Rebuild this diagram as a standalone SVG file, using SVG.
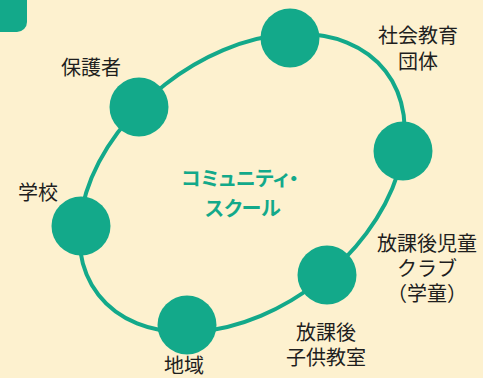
<svg xmlns="http://www.w3.org/2000/svg" width="483" height="378" viewBox="0 0 483 378">
<style>
.lbl{font-family:"Liberation Sans","Noto Sans CJK JP","Noto Sans CJK SC",sans-serif;font-size:20px;fill:#1e1e1e;text-anchor:middle}
.ctr{font-family:"Liberation Sans","Noto Sans CJK JP","Noto Sans CJK SC",sans-serif;font-size:20px;font-weight:bold;fill:#13a98a;text-anchor:middle;font-feature-settings:"palt"}
.node{fill:#13a98a}
.loop{fill:none;stroke:#13a98a;stroke-width:4}
</style>
<rect width="483" height="378" fill="#fdf1cf"/>
<rect x="-12" y="-12" width="39" height="44" rx="10" fill="#13a98a"/>
<g id="connectors">
<ellipse class="loop" cx="242" cy="183" rx="182" ry="125" transform="rotate(-38 242 183)"/>
</g>
<g id="hogosha"><circle class="node" cx="139" cy="107" r="29.5"/><text class="lbl" x="91" y="75">保護者</text></g>
<g id="shakai"><circle class="node" cx="290" cy="38" r="29.5"/><text class="lbl" x="418" y="43">社会教育</text><text class="lbl" x="418" y="69">団体</text></g>
<g id="right"><circle class="node" cx="403" cy="151" r="29.5"/></g>
<g id="gakudo"><circle class="node" cx="327" cy="275" r="29.5"/><text class="lbl" x="427" y="251">放課後児童</text><text class="lbl" x="427" y="276">クラブ</text><text class="lbl" x="427" y="301">（学童）</text></g>
<g id="kyoshitsu"><text class="lbl" x="326" y="340">放課後</text><text class="lbl" x="326" y="365">子供教室</text></g>
<g id="chiiki"><circle class="node" cx="187" cy="325" r="29.5"/><text class="lbl" x="184" y="373">地域</text></g>
<g id="gakko"><circle class="node" cx="81" cy="226" r="29.5"/><text class="lbl" x="38" y="200">学校</text></g>
<g id="center"><text class="ctr" x="240" y="186">コミュニティ・</text><text class="ctr" x="243" y="216">スクール</text></g>
</svg>
